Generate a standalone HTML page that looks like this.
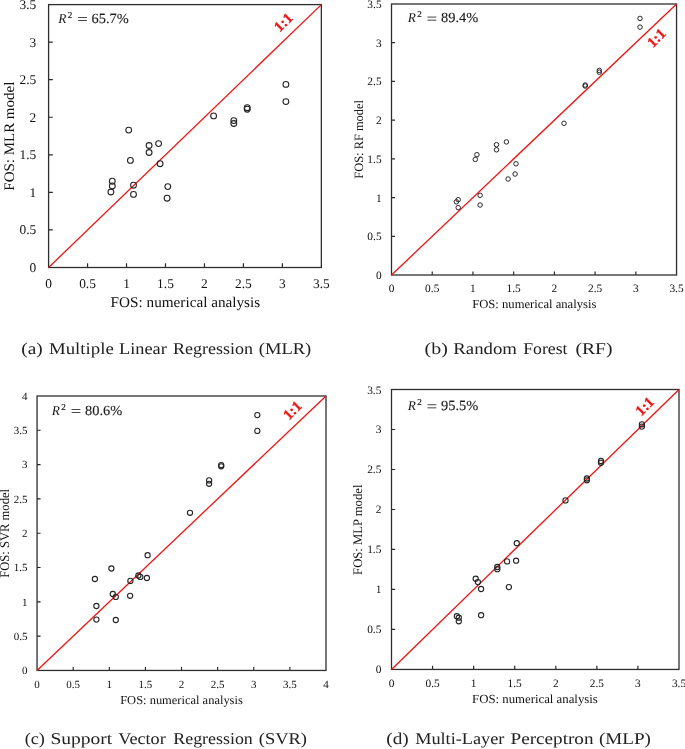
<!DOCTYPE html>
<html><head><meta charset="utf-8"><style>
html,body{margin:0;padding:0;background:#fff;}
svg{display:block;will-change:transform;}
text{font-family:"Liberation Serif",serif;text-rendering:geometricPrecision;}
</style></head><body>
<svg width="685" height="749" viewBox="0 0 685 749">
<rect width="685" height="749" fill="#fff"/>
<g id="pa">
<path d="M87.56 267.50v-4.20M126.53 267.50v-4.20M165.49 267.50v-4.20M204.46 267.50v-4.20M243.42 267.50v-4.20M282.39 267.50v-4.20M48.60 229.94h4.20M48.60 192.39h4.20M48.60 154.83h4.20M48.60 117.27h4.20M48.60 79.71h4.20M48.60 42.16h4.20" stroke="#2a2a2a" stroke-width="1.2" fill="none"/>
<rect x="48.60" y="4.60" width="272.75" height="262.90" fill="none" stroke="#2e2e2e" stroke-width="1.3"/>
<line x1="48.60" y1="267.50" x2="321.35" y2="4.60" stroke="#ee1414" stroke-width="1.3"/>
<g fill="none" stroke="#262626" stroke-width="1.1"><circle cx="128.7" cy="130.1" r="2.9"/><circle cx="149.1" cy="145.5" r="2.9"/><circle cx="158.6" cy="143.6" r="2.9"/><circle cx="149.1" cy="152.5" r="2.9"/><circle cx="130.4" cy="160.4" r="2.9"/><circle cx="160.1" cy="163.7" r="2.9"/><circle cx="112.3" cy="181.2" r="2.9"/><circle cx="112.3" cy="185.9" r="2.9"/><circle cx="110.9" cy="192.0" r="2.9"/><circle cx="133.5" cy="185.2" r="2.9"/><circle cx="133.5" cy="194.4" r="2.9"/><circle cx="167.8" cy="186.6" r="2.9"/><circle cx="167.1" cy="198.2" r="2.9"/><circle cx="213.6" cy="115.9" r="2.9"/><circle cx="233.8" cy="120.6" r="2.9"/><circle cx="233.8" cy="123.5" r="2.9"/><circle cx="247.2" cy="107.7" r="2.9"/><circle cx="247.2" cy="109.2" r="2.9"/><circle cx="285.9" cy="84.4" r="2.9"/><circle cx="285.9" cy="101.6" r="2.9"/></g>
<g font-family="Liberation Serif" font-size="13.4" fill="#111"><text x="48.60" y="287.60" text-anchor="middle">0</text><text x="87.56" y="287.60" text-anchor="middle">0.5</text><text x="126.53" y="287.60" text-anchor="middle">1</text><text x="165.49" y="287.60" text-anchor="middle">1.5</text><text x="204.46" y="287.60" text-anchor="middle">2</text><text x="243.42" y="287.60" text-anchor="middle">2.5</text><text x="282.39" y="287.60" text-anchor="middle">3</text><text x="321.35" y="287.60" text-anchor="middle">3.5</text><text x="36.20" y="272.00" text-anchor="end">0</text><text x="36.20" y="234.44" text-anchor="end">0.5</text><text x="36.20" y="196.89" text-anchor="end">1</text><text x="36.20" y="159.33" text-anchor="end">1.5</text><text x="36.20" y="121.77" text-anchor="end">2</text><text x="36.20" y="84.21" text-anchor="end">2.5</text><text x="36.20" y="46.66" text-anchor="end">3</text><text x="36.20" y="9.10" text-anchor="end">3.5</text></g>
<text x="110.6" y="307.3" font-family="Liberation Serif" font-size="14.8" textLength="149.6" lengthAdjust="spacingAndGlyphs" fill="#111">FOS: numerical analysis</text>
<text transform="translate(14.0,190.7) rotate(-90)" x="0" y="0" font-family="Liberation Serif" font-size="14.5" textLength="109.0" lengthAdjust="spacingAndGlyphs" fill="#111">FOS: MLR model</text>
<g transform="translate(0.00,0.00)" fill="#1a1a1a"><text x="58.3" y="22.6" font-family="Liberation Serif" font-style="italic" font-size="13.4">R</text><text x="67.8" y="17.7" font-family="Liberation Serif" font-size="9.1" stroke="#1a1a1a" stroke-width="0.2">2</text><rect x="78.1" y="17.0" width="8.8" height="0.9" fill="#333"/><rect x="78.1" y="20.1" width="8.8" height="0.9" fill="#333"/><text x="91.6" y="22.9" font-family="Liberation Serif" font-size="14" textLength="37.2" lengthAdjust="spacingAndGlyphs" stroke="#1a1a1a" stroke-width="0.12">65.7%</text></g>
<text transform="translate(283.1,22.1) rotate(-45)" x="0" y="0" dy="0.35em" text-anchor="middle" font-family="Liberation Serif" font-weight="bold" font-size="14.6" fill="#ee1414" stroke="#ee1414" stroke-width="0.35">1:1</text>
<text x="21.33" y="353.7" font-family="Liberation Serif" font-size="16.5" fill="#222" textLength="21.44" lengthAdjust="spacingAndGlyphs">(a)</text><text x="49.04" y="353.7" font-family="Liberation Serif" font-size="16.5" fill="#222" textLength="64.71" lengthAdjust="spacingAndGlyphs">Multiple</text><text x="119.05" y="353.7" font-family="Liberation Serif" font-size="16.5" fill="#222" textLength="47.82" lengthAdjust="spacingAndGlyphs">Linear</text><text x="173.06" y="353.7" font-family="Liberation Serif" font-size="16.5" fill="#222" textLength="79.99" lengthAdjust="spacingAndGlyphs">Regression</text><text x="258.77" y="353.7" font-family="Liberation Serif" font-size="16.5" fill="#222" textLength="52.53" lengthAdjust="spacingAndGlyphs">(MLR)</text>
</g>
<g id="pb">
<path d="M432.22 275.00v-3.50M472.94 275.00v-3.50M513.66 275.00v-3.50M554.39 275.00v-3.50M595.11 275.00v-3.50M635.83 275.00v-3.50M391.50 236.29h3.50M391.50 197.57h3.50M391.50 158.86h3.50M391.50 120.14h3.50M391.50 81.43h3.50M391.50 42.71h3.50" stroke="#2a2a2a" stroke-width="1.2" fill="none"/>
<rect x="391.50" y="4.00" width="285.05" height="271.00" fill="none" stroke="#2e2e2e" stroke-width="1.3"/>
<line x1="391.50" y1="275.00" x2="676.55" y2="4.00" stroke="#ee1414" stroke-width="1.3"/>
<g fill="none" stroke="#262626" stroke-width="1.0"><circle cx="476.9" cy="154.7" r="2.25"/><circle cx="475.3" cy="159.4" r="2.25"/><circle cx="496.5" cy="144.7" r="2.25"/><circle cx="496.5" cy="149.8" r="2.25"/><circle cx="506.4" cy="141.9" r="2.25"/><circle cx="516.0" cy="163.8" r="2.25"/><circle cx="515.1" cy="174.0" r="2.25"/><circle cx="508.1" cy="179.0" r="2.25"/><circle cx="480.1" cy="195.3" r="2.25"/><circle cx="480.1" cy="205.0" r="2.25"/><circle cx="458.2" cy="199.7" r="2.25"/><circle cx="456.4" cy="201.8" r="2.25"/><circle cx="458.2" cy="207.6" r="2.25"/><circle cx="564.0" cy="123.3" r="2.25"/><circle cx="585.2" cy="85.0" r="2.25"/><circle cx="585.2" cy="86.0" r="2.25"/><circle cx="599.3" cy="70.4" r="2.25"/><circle cx="599.3" cy="72.2" r="2.25"/><circle cx="640.0" cy="18.4" r="2.25"/><circle cx="640.0" cy="27.1" r="2.25"/></g>
<g font-family="Liberation Serif" font-size="11.4" fill="#111"><text x="391.50" y="291.60" text-anchor="middle">0</text><text x="432.22" y="291.60" text-anchor="middle">0.5</text><text x="472.94" y="291.60" text-anchor="middle">1</text><text x="513.66" y="291.60" text-anchor="middle">1.5</text><text x="554.39" y="291.60" text-anchor="middle">2</text><text x="595.11" y="291.60" text-anchor="middle">2.5</text><text x="635.83" y="291.60" text-anchor="middle">3</text><text x="676.55" y="291.60" text-anchor="middle">3.5</text><text x="381.60" y="279.00" text-anchor="end">0</text><text x="381.60" y="240.29" text-anchor="end">0.5</text><text x="381.60" y="201.57" text-anchor="end">1</text><text x="381.60" y="162.86" text-anchor="end">1.5</text><text x="381.60" y="124.14" text-anchor="end">2</text><text x="381.60" y="85.43" text-anchor="end">2.5</text><text x="381.60" y="46.71" text-anchor="end">3</text><text x="381.60" y="8.00" text-anchor="end">3.5</text></g>
<text x="472.2" y="308.1" font-family="Liberation Serif" font-size="12.3" textLength="124.2" lengthAdjust="spacingAndGlyphs" fill="#111">FOS: numerical analysis</text>
<text transform="translate(362.6,178.7) rotate(-90)" x="0" y="0" font-family="Liberation Serif" font-size="12.7" textLength="78.7" lengthAdjust="spacingAndGlyphs" fill="#111">FOS: RF model</text>
<g transform="translate(349.40,-0.40)" fill="#1a1a1a"><text x="58.3" y="22.6" font-family="Liberation Serif" font-style="italic" font-size="13.4">R</text><text x="67.8" y="17.7" font-family="Liberation Serif" font-size="9.1" stroke="#1a1a1a" stroke-width="0.2">2</text><rect x="78.1" y="17.0" width="8.8" height="0.9" fill="#333"/><rect x="78.1" y="20.1" width="8.8" height="0.9" fill="#333"/><text x="91.6" y="22.9" font-family="Liberation Serif" font-size="14" textLength="37.2" lengthAdjust="spacingAndGlyphs" stroke="#1a1a1a" stroke-width="0.12">89.4%</text></g>
<text transform="translate(656.2,37.7) rotate(-45)" x="0" y="0" dy="0.35em" text-anchor="middle" font-family="Liberation Serif" font-weight="bold" font-size="14.6" fill="#ee1414" stroke="#ee1414" stroke-width="0.35">1:1</text>
<text x="424.60" y="353.9" font-family="Liberation Serif" font-size="16.5" fill="#222" textLength="23.21" lengthAdjust="spacingAndGlyphs">(b)</text><text x="453.34" y="353.9" font-family="Liberation Serif" font-size="16.5" fill="#222" textLength="63.61" lengthAdjust="spacingAndGlyphs">Random</text><text x="523.27" y="353.9" font-family="Liberation Serif" font-size="16.5" fill="#222" textLength="44.21" lengthAdjust="spacingAndGlyphs">Forest</text><text x="575.42" y="353.9" font-family="Liberation Serif" font-size="16.5" fill="#222" textLength="37.05" lengthAdjust="spacingAndGlyphs">(RF)</text>
</g>
<g id="pc">
<path d="M73.17 670.45v-3.50M109.29 670.45v-3.50M145.41 670.45v-3.50M181.52 670.45v-3.50M217.64 670.45v-3.50M253.76 670.45v-3.50M289.88 670.45v-3.50M37.05 636.14h3.50M37.05 601.84h3.50M37.05 567.53h3.50M37.05 533.23h3.50M37.05 498.92h3.50M37.05 464.61h3.50M37.05 430.31h3.50" stroke="#222" stroke-width="1.1" fill="none"/>
<rect x="37.05" y="396.00" width="288.95" height="274.45" fill="none" stroke="#2e2e2e" stroke-width="1.3"/>
<line x1="37.05" y1="670.45" x2="326.00" y2="396.00" stroke="#ee1414" stroke-width="1.3"/>
<g fill="none" stroke="#262626" stroke-width="1.1"><circle cx="147.6" cy="555.2" r="2.6"/><circle cx="111.4" cy="568.5" r="2.6"/><circle cx="94.9" cy="579.0" r="2.6"/><circle cx="138.4" cy="575.5" r="2.6"/><circle cx="140.3" cy="576.9" r="2.6"/><circle cx="146.9" cy="578.0" r="2.6"/><circle cx="130.4" cy="580.9" r="2.6"/><circle cx="112.8" cy="594.0" r="2.6"/><circle cx="115.8" cy="596.9" r="2.6"/><circle cx="130.1" cy="595.8" r="2.6"/><circle cx="96.4" cy="606.0" r="2.6"/><circle cx="96.4" cy="619.6" r="2.6"/><circle cx="115.8" cy="620.0" r="2.6"/><circle cx="190.0" cy="512.8" r="2.6"/><circle cx="209.1" cy="480.4" r="2.6"/><circle cx="209.1" cy="483.8" r="2.6"/><circle cx="221.2" cy="465.1" r="2.6"/><circle cx="221.2" cy="466.3" r="2.6"/><circle cx="257.3" cy="415.1" r="2.6"/><circle cx="257.3" cy="430.9" r="2.6"/></g>
<g font-family="Liberation Serif" font-size="11.0" fill="#111"><text x="37.05" y="687.70" text-anchor="middle">0</text><text x="73.17" y="687.70" text-anchor="middle">0.5</text><text x="109.29" y="687.70" text-anchor="middle">1</text><text x="145.41" y="687.70" text-anchor="middle">1.5</text><text x="181.52" y="687.70" text-anchor="middle">2</text><text x="217.64" y="687.70" text-anchor="middle">2.5</text><text x="253.76" y="687.70" text-anchor="middle">3</text><text x="289.88" y="687.70" text-anchor="middle">3.5</text><text x="326.00" y="687.70" text-anchor="middle">4</text><text x="27.60" y="674.15" text-anchor="end">0</text><text x="27.60" y="639.84" text-anchor="end">0.5</text><text x="27.60" y="605.54" text-anchor="end">1</text><text x="27.60" y="571.23" text-anchor="end">1.5</text><text x="27.60" y="536.93" text-anchor="end">2</text><text x="27.60" y="502.62" text-anchor="end">2.5</text><text x="27.60" y="468.31" text-anchor="end">3</text><text x="27.60" y="434.01" text-anchor="end">3.5</text><text x="27.60" y="399.70" text-anchor="end">4</text></g>
<text x="120.2" y="704.1" font-family="Liberation Serif" font-size="12.2" textLength="122.6" lengthAdjust="spacingAndGlyphs" fill="#111">FOS: numerical analysis</text>
<text transform="translate(8.6,577.7) rotate(-90)" x="0" y="0" font-family="Liberation Serif" font-size="13.2" textLength="88.7" lengthAdjust="spacingAndGlyphs" fill="#111">FOS: SVR model</text>
<g transform="translate(-6.50,392.00)" fill="#1a1a1a"><text x="58.3" y="22.6" font-family="Liberation Serif" font-style="italic" font-size="13.4">R</text><text x="67.8" y="17.7" font-family="Liberation Serif" font-size="9.1" stroke="#1a1a1a" stroke-width="0.2">2</text><rect x="78.1" y="17.0" width="8.8" height="0.9" fill="#333"/><rect x="78.1" y="20.1" width="8.8" height="0.9" fill="#333"/><text x="91.6" y="22.9" font-family="Liberation Serif" font-size="14" textLength="37.2" lengthAdjust="spacingAndGlyphs" stroke="#1a1a1a" stroke-width="0.12">80.6%</text></g>
<text transform="translate(292.2,410.1) rotate(-45)" x="0" y="0" dy="0.35em" text-anchor="middle" font-family="Liberation Serif" font-weight="bold" font-size="14.6" fill="#ee1414" stroke="#ee1414" stroke-width="0.35">1:1</text>
<text x="24.68" y="744.2" font-family="Liberation Serif" font-size="16.5" fill="#222" textLength="20.24" lengthAdjust="spacingAndGlyphs">(c)</text><text x="50.43" y="744.2" font-family="Liberation Serif" font-size="16.5" fill="#222" textLength="61.70" lengthAdjust="spacingAndGlyphs">Support</text><text x="118.32" y="744.2" font-family="Liberation Serif" font-size="16.5" fill="#222" textLength="47.46" lengthAdjust="spacingAndGlyphs">Vector</text><text x="173.26" y="744.2" font-family="Liberation Serif" font-size="16.5" fill="#222" textLength="79.58" lengthAdjust="spacingAndGlyphs">Regression</text><text x="258.77" y="744.2" font-family="Liberation Serif" font-size="16.5" fill="#222" textLength="48.20" lengthAdjust="spacingAndGlyphs">(SVR)</text>
</g>
<g id="pd">
<path d="M432.57 669.45v-3.60M473.64 669.45v-3.60M514.71 669.45v-3.60M555.79 669.45v-3.60M596.86 669.45v-3.60M637.93 669.45v-3.60M391.50 629.46h3.60M391.50 589.46h3.60M391.50 549.47h3.60M391.50 509.48h3.60M391.50 469.49h3.60M391.50 429.49h3.60" stroke="#2a2a2a" stroke-width="1.2" fill="none"/>
<rect x="391.50" y="389.50" width="287.50" height="279.95" fill="none" stroke="#2e2e2e" stroke-width="1.3"/>
<line x1="391.50" y1="669.45" x2="679.00" y2="389.50" stroke="#ee1414" stroke-width="1.3"/>
<g fill="none" stroke="#262626" stroke-width="1.1"><circle cx="516.8" cy="543.2" r="2.6"/><circle cx="507.1" cy="561.4" r="2.6"/><circle cx="516.1" cy="560.7" r="2.6"/><circle cx="497.3" cy="567.0" r="2.6"/><circle cx="497.3" cy="569.2" r="2.6"/><circle cx="475.7" cy="578.7" r="2.6"/><circle cx="477.9" cy="582.1" r="2.6"/><circle cx="481.1" cy="589.0" r="2.6"/><circle cx="508.9" cy="587.1" r="2.6"/><circle cx="456.9" cy="616.2" r="2.6"/><circle cx="458.8" cy="617.7" r="2.6"/><circle cx="458.8" cy="621.3" r="2.6"/><circle cx="481.1" cy="615.2" r="2.6"/><circle cx="565.5" cy="500.4" r="2.6"/><circle cx="586.9" cy="478.5" r="2.6"/><circle cx="586.9" cy="480.3" r="2.6"/><circle cx="601.0" cy="461.0" r="2.6"/><circle cx="601.0" cy="462.8" r="2.6"/><circle cx="641.9" cy="424.3" r="2.6"/><circle cx="641.9" cy="426.6" r="2.6"/></g>
<g font-family="Liberation Serif" font-size="11.4" fill="#111"><text x="391.50" y="686.90" text-anchor="middle">0</text><text x="432.57" y="686.90" text-anchor="middle">0.5</text><text x="473.64" y="686.90" text-anchor="middle">1</text><text x="514.71" y="686.90" text-anchor="middle">1.5</text><text x="555.79" y="686.90" text-anchor="middle">2</text><text x="596.86" y="686.90" text-anchor="middle">2.5</text><text x="637.93" y="686.90" text-anchor="middle">3</text><text x="679.00" y="686.90" text-anchor="middle">3.5</text><text x="381.40" y="673.45" text-anchor="end">0</text><text x="381.40" y="633.46" text-anchor="end">0.5</text><text x="381.40" y="593.46" text-anchor="end">1</text><text x="381.40" y="553.47" text-anchor="end">1.5</text><text x="381.40" y="513.48" text-anchor="end">2</text><text x="381.40" y="473.49" text-anchor="end">2.5</text><text x="381.40" y="433.49" text-anchor="end">3</text><text x="381.40" y="393.50" text-anchor="end">3.5</text></g>
<text x="472.1" y="703.2" font-family="Liberation Serif" font-size="12.4" textLength="125.7" lengthAdjust="spacingAndGlyphs" fill="#111">FOS: numerical analysis</text>
<text transform="translate(362.4,574.9) rotate(-90)" x="0" y="0" font-family="Liberation Serif" font-size="13.0" textLength="90.3" lengthAdjust="spacingAndGlyphs" fill="#111">FOS: MLP model</text>
<g transform="translate(349.40,387.30)" fill="#1a1a1a"><text x="58.3" y="22.6" font-family="Liberation Serif" font-style="italic" font-size="13.4">R</text><text x="67.8" y="17.7" font-family="Liberation Serif" font-size="9.1" stroke="#1a1a1a" stroke-width="0.2">2</text><rect x="78.1" y="17.0" width="8.8" height="0.9" fill="#333"/><rect x="78.1" y="20.1" width="8.8" height="0.9" fill="#333"/><text x="91.6" y="22.9" font-family="Liberation Serif" font-size="14" textLength="37.2" lengthAdjust="spacingAndGlyphs" stroke="#1a1a1a" stroke-width="0.12">95.5%</text></g>
<text transform="translate(644.5,406.0) rotate(-45)" x="0" y="0" dy="0.35em" text-anchor="middle" font-family="Liberation Serif" font-weight="bold" font-size="14.6" fill="#ee1414" stroke="#ee1414" stroke-width="0.35">1:1</text>
<text x="386.33" y="744.2" font-family="Liberation Serif" font-size="16.5" fill="#222" textLength="22.46" lengthAdjust="spacingAndGlyphs">(d)</text><text x="415.15" y="744.2" font-family="Liberation Serif" font-size="16.5" fill="#222" textLength="89.28" lengthAdjust="spacingAndGlyphs">Multi-Layer</text><text x="510.53" y="744.2" font-family="Liberation Serif" font-size="16.5" fill="#222" textLength="82.99" lengthAdjust="spacingAndGlyphs">Perceptron</text><text x="598.94" y="744.2" font-family="Liberation Serif" font-size="16.5" fill="#222" textLength="51.97" lengthAdjust="spacingAndGlyphs">(MLP)</text>
</g>
</svg>
</body></html>
